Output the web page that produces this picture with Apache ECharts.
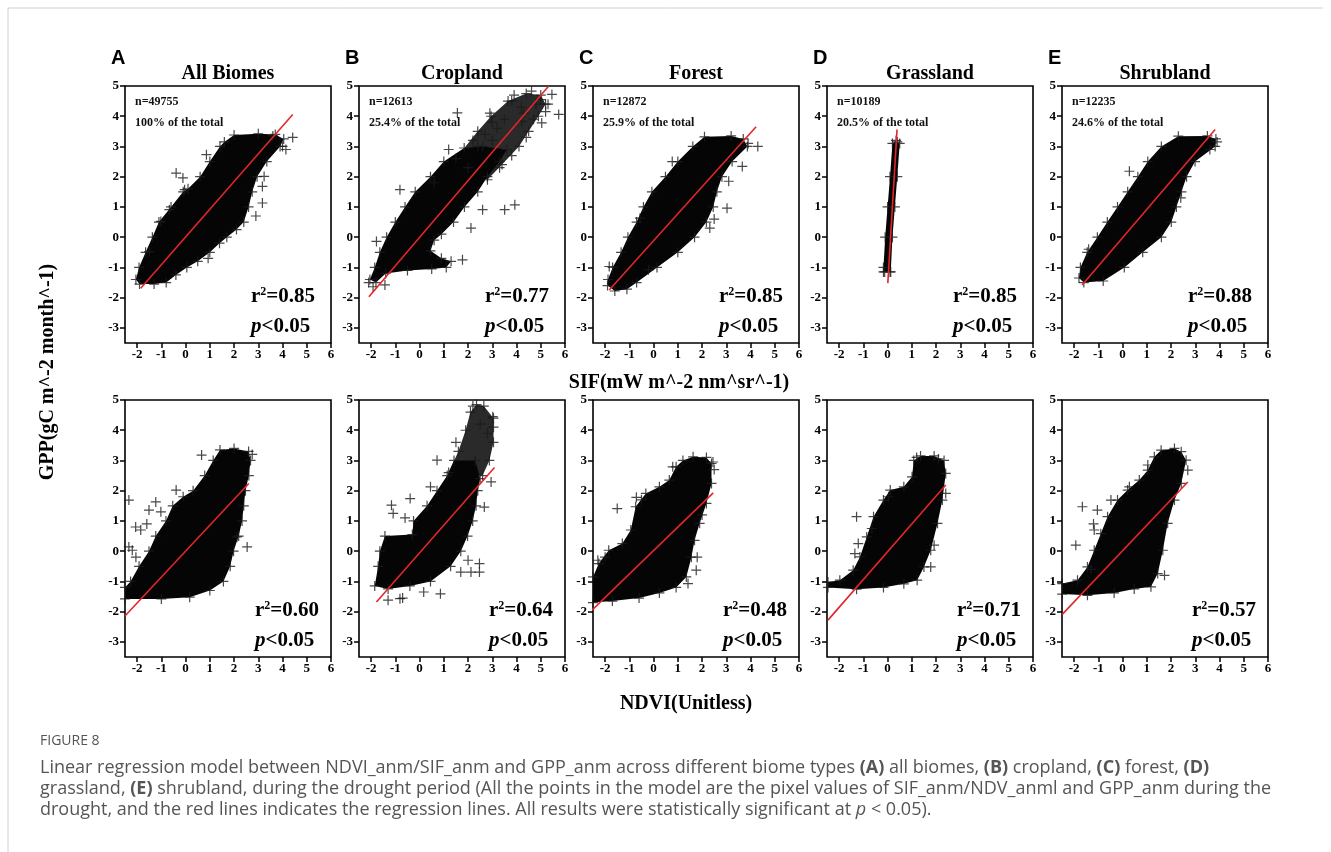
<!DOCTYPE html>
<html>
<head>
<meta charset="utf-8">
<title>Figure 8</title>
<script src="https://cdn.jsdelivr.net/npm/echarts/dist/echarts.min.js"></script>
<style>
  html, body { margin: 0; padding: 0; background: #fff; }
  #fig { width: 1331px; height: 852px; }
</style>
</head>
<body>
<div id="fig"></div>
<script>
var ticksX = [-2, -1, 0, 1, 2, 3, 4, 5, 6];
var ticksY = [-3, -2, -1, 0, 1, 2, 3, 4, 5];

var letters = ['A', 'B', 'C', 'D', 'E'];
var biomes = ['All Biomes', 'Cropland', 'Forest', 'Grassland', 'Shrubland'];
var pixelCounts = ['n=49755', 'n=12613', 'n=12872', 'n=10189', 'n=12235'];
var shareOfTotal = ['100% of the total', '25.4% of the total', '25.9% of the total', '20.5% of the total', '24.6% of the total'];
var r2Sif = ['0.85', '0.77', '0.85', '0.85', '0.88'];
var r2Ndvi = ['0.60', '0.64', '0.48', '0.71', '0.57'];

// outline of the dense point clouds (x, GPP anomaly)
var sifAllCloud = [[-2.05,-1.4],[-1.9,-1.55],[-1.3,-1.55],[-0.8,-1.5],[-0.4,-1.25],[0.05,-1.0],[0.5,-0.8],[1.0,-0.5],[1.4,-0.2],[1.7,0.0],[2.1,0.25],[2.4,0.5],[2.6,1.0],[2.75,1.5],[2.95,2.0],[3.35,2.5],[3.9,3.0],[4.05,3.25],[3.7,3.4],[3.0,3.42],[2.0,3.38],[1.6,3.15],[1.42,3.0],[1.0,2.5],[0.6,2.0],[0.1,1.6],[-0.1,1.5],[-0.6,1.0],[-1.1,0.5],[-1.37,0.0],[-1.65,-0.5],[-1.92,-1.0]];
var sifAllPts = [[4.42,3.3],[4.0,3.0],[4.14,2.9],[3.24,2.01],[3.17,1.68],[3.17,1.13],[-0.11,1.96],[-0.04,1.57],[-0.39,2.12],[0.86,2.73],[-0.67,0.91],[-1.02,0.52],[-1.5,-0.48],[0.93,-0.7],[2.9,0.7],[3.6,3.35]];
var sifAllFit = [[-1.85,-1.69],[4.42,4.06]];

var sifCropCloud = [[-2.05,-1.4],[-1.8,-1.5],[-1.4,-1.2],[-0.5,-1.1],[0.5,-1.05],[1.1,-1.0],[1.3,-0.8],[0.9,-0.7],[0.45,-0.45],[0.6,-0.1],[0.9,0.1],[1.4,0.5],[1.85,1.0],[2.4,1.5],[2.8,2.0],[3.3,2.5],[3.6,2.9],[2.6,3.0],[1.84,2.95],[1.0,2.5],[0.45,2.0],[-0.18,1.5],[-0.6,1.0],[-1.0,0.5],[-1.36,0.0],[-1.64,-0.5],[-1.85,-1.0]];
var sifCropSparse = [[1.5,2.6],[2.4,3.5],[2.95,4.0],[3.65,4.5],[4.4,4.75],[5.0,4.7],[5.2,4.4],[4.9,4.0],[4.5,3.5],[4.1,3.0],[3.4,2.4],[2.8,1.9],[2.0,2.3]];
var sifCropPts = [[4.62,4.83],[5.46,4.72],[5.74,4.06],[5.04,3.78],[4.21,3.83],[1.56,4.11],[3.51,0.91],[3.93,1.07],[2.6,0.91],[2.12,0.3],[1.77,-0.75],[-0.81,1.57],[-1.78,-0.14],[-1.92,-1.64],[-1.43,-1.58],[-2.1,-1.5],[3.8,4.5],[4.2,4.3],[5.0,4.55],[5.3,4.4],[4.7,3.9],[4.3,4.1],[3.5,3.9],[3.2,3.6],[2.9,4.1],[4.4,3.3],[3.8,2.7],[3.3,2.3],[2.4,3.0],[2.7,3.4],[3.0,3.2],[1.2,2.9],[0.6,1.8],[3.9,4.7],[4.8,4.4],[5.2,4.15],[3.0,3.8],[2.2,3.2]];
var sifCropFit = [[-2.09,-1.97],[5.32,4.99]];

var sifForestCloud = [[-1.9,-1.6],[-1.6,-1.78],[-1.1,-1.72],[-0.7,-1.5],[0.14,-1.0],[1.0,-0.5],[1.69,0.0],[2.18,0.5],[2.46,1.0],[2.61,1.5],[2.82,2.0],[3.24,2.5],[3.87,3.0],[3.7,3.25],[3.2,3.35],[2.1,3.32],[1.62,3.0],[1.0,2.5],[0.49,2.0],[-0.07,1.5],[-0.42,1.0],[-0.7,0.5],[-1.06,0.0],[-1.34,-0.5],[-1.69,-1.0],[-1.88,-1.4]];
var sifForestPts = [[4.3,3.0],[3.66,2.34],[3.1,1.85],[3.03,0.96],[2.32,0.3],[0.77,2.5],[-0.56,0.63],[-0.21,-1.08],[-1.83,-0.97],[3.9,3.1],[2.5,0.6]];
var sifForestFit = [[-1.83,-1.75],[4.23,3.65]];

var sifGrassCloud = [[-0.17,-1.15],[0.13,-1.15],[0.2,0.0],[0.3,1.0],[0.4,2.0],[0.5,3.1],[0.35,3.2],[0.2,3.1],[0.1,2.0],[0.0,1.0],[-0.1,0.0],[-0.17,-1.0]];
var sifGrassPts = [[0.4,3.15],[-0.12,-1.15],[0.1,-1.15]];
var sifGrassFit = [[0.01,-1.52],[0.39,3.56]];

var sifShrubCloud = [[-1.8,-1.35],[-1.6,-1.5],[-0.8,-1.45],[0.07,-1.0],[0.83,-0.5],[1.6,0.0],[2.01,0.5],[2.22,1.0],[2.43,1.5],[2.64,2.0],[2.99,2.5],[3.82,3.0],[3.85,3.25],[3.5,3.35],[2.3,3.34],[1.6,3.0],[1.04,2.5],[0.63,2.0],[0.21,1.5],[-0.21,1.0],[-0.63,0.5],[-1.04,0.0],[-1.46,-0.5],[-1.74,-1.0]];
var sifShrubPts = [[0.28,2.18],[3.9,3.15],[3.6,2.9],[2.4,1.3],[-1.4,-0.4]];
var sifShrubFit = [[-1.67,-1.58],[3.82,3.56]];

var ndviAllCloud = [[-2.5,-1.58],[-1.0,-1.58],[0.17,-1.52],[1.0,-1.3],[1.56,-1.0],[1.84,-0.5],[1.98,0.0],[2.19,0.5],[2.33,1.0],[2.4,1.5],[2.47,2.0],[2.61,2.5],[2.68,3.0],[2.6,3.3],[2.0,3.4],[1.42,3.35],[1.14,3.0],[0.79,2.5],[0.31,2.0],[-0.1,1.8],[-0.53,1.5],[-0.81,1.0],[-1.23,0.5],[-1.51,0.0],[-1.92,-0.5],[-2.27,-1.0],[-2.5,-1.2]];
var ndviAllPts = [[-2.34,1.69],[-2.06,0.8],[-1.85,0.7],[-1.51,1.36],[-1.23,1.63],[-1.02,1.3],[-2.34,0.14],[-2.2,0.03],[-2.05,-0.2],[0.66,3.18],[-0.39,2.02],[2.54,0.14],[2.12,0.47],[2.75,3.2],[-1.6,0.9]];
var ndviAllFit = [[-2.51,-2.15],[2.61,2.24]];

var ndviCropCloud = [[-1.85,-1.15],[-1.3,-1.25],[-0.4,-1.15],[0.45,-1.0],[1.28,-0.5],[1.7,0.0],[1.98,0.5],[2.19,1.0],[2.33,1.5],[2.4,2.0],[2.5,2.4],[2.3,3.0],[1.42,3.0],[1.14,2.5],[0.72,2.0],[0.31,1.5],[-0.25,1.0],[-0.3,0.55],[-1.43,0.5],[-1.64,0.0],[-1.71,-0.5]];
var ndviCropSparse = [[1.2,2.6],[1.6,3.3],[1.9,4.0],[2.1,4.6],[2.35,4.85],[2.65,4.8],[3.05,4.4],[3.05,3.6],[2.88,3.0],[2.6,2.5]];
var ndviCropPts = [[-1.16,1.52],[-1.09,1.25],[-0.6,1.1],[-0.39,1.74],[0.45,2.13],[0.72,3.01],[-1.3,-1.62],[-0.81,-1.57],[-0.7,-1.55],[0.17,-1.35],[0.86,-1.41],[1.7,-0.69],[2.12,-0.69],[2.47,-0.69],[2.47,-0.41],[2.67,1.46],[2.95,2.29],[3.02,4.45],[2.2,4.8],[2.5,4.2],[2.8,3.9],[3.05,4.1],[1.5,3.6],[2.0,-0.3]];
var ndviCropFit = [[-1.78,-1.68],[3.09,2.77]];

var ndviForestCloud = [[-2.5,-1.7],[-1.7,-1.65],[-0.6,-1.55],[0.24,-1.38],[0.93,-1.2],[1.35,-0.85],[1.56,-0.2],[1.69,0.36],[1.9,0.92],[2.18,1.58],[2.39,2.24],[2.39,2.9],[2.18,3.1],[1.63,3.12],[1.21,3.0],[0.93,2.79],[0.65,2.35],[0.24,2.13],[-0.32,1.91],[-0.74,1.47],[-0.94,0.7],[-1.29,0.25],[-1.85,0.03],[-2.26,-0.41],[-2.5,-0.85]];
var ndviForestPts = [[-1.5,1.41],[-0.71,1.78],[-0.5,1.7],[0.79,2.79],[1.76,-0.63],[1.8,-0.2],[1.42,-1.07],[2.45,2.95],[2.5,2.7],[-2.3,-0.3],[-2.0,-0.2],[2.0,1.2]];
var ndviForestFit = [[-2.54,-1.95],[2.46,1.93]];

var ndviGrassCloud = [[-2.46,-1.2],[-1.28,-1.26],[-0.17,-1.2],[0.67,-1.08],[1.22,-0.96],[1.5,-0.52],[1.78,0.03],[2.06,0.92],[2.26,1.69],[2.4,2.57],[2.33,3.0],[1.92,3.15],[1.36,3.15],[1.08,3.0],[1.01,2.46],[0.67,2.13],[0.11,2.02],[-0.17,1.69],[-0.58,1.14],[-0.86,0.47],[-1.14,-0.19],[-1.42,-0.63],[-1.97,-0.96],[-2.46,-1.02]];
var ndviGrassPts = [[-1.28,1.14],[-1.35,-0.08],[-1.21,0.25],[-0.65,0.75],[0.04,1.8],[1.92,0.2],[1.78,-0.52],[2.4,1.91],[1.2,3.1],[2.1,3.05]];
var ndviGrassFit = [[-2.46,-2.28],[2.4,2.19]];

var ndviShrubCloud = [[-2.49,-1.42],[-1.45,-1.46],[-0.35,-1.38],[0.48,-1.25],[1.17,-1.18],[1.45,-0.74],[1.66,0.03],[1.86,0.92],[2.14,1.69],[2.42,2.24],[2.62,3.01],[2.42,3.29],[2.14,3.4],[1.59,3.34],[1.31,3.12],[1.04,2.68],[0.69,2.35],[0.21,2.02],[-0.21,1.69],[-0.62,1.14],[-0.9,0.58],[-1.17,0.03],[-1.45,-0.52],[-1.86,-0.96],[-2.49,-1.07]];
var ndviShrubPts = [[-1.66,1.47],[-1.04,1.36],[-1.17,0.7],[-1.93,0.2],[0.28,2.13],[1.04,2.85],[2.69,2.68],[1.73,-0.8],[-0.48,1.69],[-1.2,0.9],[-1.3,-0.6]];
var ndviShrubFit = [[-2.49,-2.09],[2.69,2.29]];

var panels = [
    {cloud: sifAllCloud, sparse: null, pts: sifAllPts, fit: sifAllFit},
    {cloud: sifCropCloud, sparse: sifCropSparse, pts: sifCropPts, fit: sifCropFit},
    {cloud: sifForestCloud, sparse: null, pts: sifForestPts, fit: sifForestFit},
    {cloud: sifGrassCloud, sparse: null, pts: sifGrassPts, fit: sifGrassFit},
    {cloud: sifShrubCloud, sparse: null, pts: sifShrubPts, fit: sifShrubFit},
    {cloud: ndviAllCloud, sparse: null, pts: ndviAllPts, fit: ndviAllFit},
    {cloud: ndviCropCloud, sparse: ndviCropSparse, pts: ndviCropPts, fit: ndviCropFit},
    {cloud: ndviForestCloud, sparse: null, pts: ndviForestPts, fit: ndviForestFit},
    {cloud: ndviGrassCloud, sparse: null, pts: ndviGrassPts, fit: ndviGrassFit},
    {cloud: ndviShrubCloud, sparse: null, pts: ndviShrubPts, fit: ndviShrubFit}
];

var gridLefts = [125, 359, 593, 827, 1062];
var gridTops = [86, 400];
var gridW = 206, gridH = 257;
var serif = '"Liberation Serif", "Times New Roman", serif';
var plusPath = 'path://M4.4,0H5.6V4.4H10V5.6H5.6V10H4.4V5.6H0V4.4H4.4Z';

function polygonSeries(idx, pts, opacity) {
    return {
        type: 'custom',
        xAxisIndex: idx,
        yAxisIndex: idx,
        silent: true,
        z: 2,
        data: [pts[0]],
        renderItem: function (params, api) {
            return {
                type: 'polygon',
                shape: {points: pts.map(function (p) { return api.coord(p); })},
                style: {fill: '#050505', opacity: opacity}
            };
        }
    };
}

var grids = [], xAxes = [], yAxes = [], series = [], graphics = [];

panels.forEach(function (p, i) {
    var row = Math.floor(i / 5), col = i % 5;
    var left = gridLefts[col], top = gridTops[row];
    grids.push({
        left: left, top: top, width: gridW, height: gridH,
        show: true, borderColor: '#000', borderWidth: 1.6, backgroundColor: '#fff'
    });
    xAxes.push({
        type: 'value', gridIndex: i, min: -2.5, max: 6, position: 'bottom',
        axisLine: {show: false, onZero: false},
        splitLine: {show: false},
        axisTick: {show: true, length: 5, customValues: ticksX, lineStyle: {color: '#000', width: 1.5}},
        axisLabel: {customValues: ticksX, margin: 5, color: '#000', fontFamily: serif, fontWeight: 'bold', fontSize: 13}
    });
    yAxes.push({
        type: 'value', gridIndex: i, min: -3.5, max: 5, position: 'left',
        axisLine: {show: false, onZero: false},
        splitLine: {show: false},
        axisTick: {show: true, length: 5, customValues: ticksY, lineStyle: {color: '#000', width: 1.5}},
        axisLabel: {customValues: ticksY, margin: 6, color: '#000', fontFamily: serif, fontWeight: 'bold', fontSize: 13}
    });

    if (p.sparse) {
        series.push(polygonSeries(i, p.sparse, 0.85));
    }
    series.push(polygonSeries(i, p.cloud, 1));
    series.push({
        type: 'scatter', xAxisIndex: i, yAxisIndex: i, silent: true, z: 3,
        symbol: plusPath, symbolSize: 10,
        itemStyle: {color: '#1a1a1a'},
        data: p.cloud.concat(p.pts, p.sparse || [])
    });
    series.push({
        type: 'line', xAxisIndex: i, yAxisIndex: i, silent: true, z: 4,
        symbol: 'none', clip: true,
        lineStyle: {color: '#e3262b', width: 1.6},
        data: p.fit
    });

    var r2 = row === 0 ? r2Sif[col] : r2Ndvi[col];
    var tx = left + (row === 0 ? 126 : 130);
    graphics.push({
        type: 'text', x: tx, y: top + 211, z: 10,
        style: {
            text: '{b|r}{s|2}{b|=' + r2 + '}',
            verticalAlign: 'middle',
            rich: {
                b: {font: 'bold 21px ' + serif, fill: '#000'},
                s: {font: 'bold 12px ' + serif, fill: '#000', padding: [0, 0, 10, 0]}
            }
        }
    });
    graphics.push({
        type: 'text', x: tx, y: top + 241, z: 10,
        style: {
            text: '{i|p}{b|<0.05}',
            verticalAlign: 'middle',
            rich: {
                i: {font: 'italic bold 21px ' + serif, fill: '#000'},
                b: {font: 'bold 21px ' + serif, fill: '#000'}
            }
        }
    });

    if (row === 0) {
        graphics.push({
            type: 'text', x: left + 10, y: top + 16, z: 10,
            style: {text: pixelCounts[col], font: 'bold 12px ' + serif, fill: '#111', verticalAlign: 'middle'}
        });
        graphics.push({
            type: 'text', x: left + 10, y: top + 37, z: 10,
            style: {text: shareOfTotal[col], font: 'bold 12px ' + serif, fill: '#111', verticalAlign: 'middle'}
        });
        graphics.push({
            type: 'text', x: left + gridW / 2, y: 74, z: 10,
            style: {text: biomes[col], font: 'bold 20px ' + serif, fill: '#000', align: 'center', verticalAlign: 'middle'}
        });
        graphics.push({
            type: 'text', x: left - 14, y: 58, z: 10,
            style: {text: letters[col], font: 'bold 20px "Liberation Sans", Arial, sans-serif', fill: '#000', verticalAlign: 'middle'}
        });
    }
});

// axis titles
graphics.push({
    type: 'text', x: 679, y: 383,
    style: {text: 'SIF(mW m^-2 nm^sr^-1)', font: 'bold 20px ' + serif, fill: '#000', align: 'center', verticalAlign: 'middle'}
});
graphics.push({
    type: 'text', x: 686, y: 704,
    style: {text: 'NDVI(Unitless)', font: 'bold 20px ' + serif, fill: '#000', align: 'center', verticalAlign: 'middle'}
});
graphics.push({
    type: 'text', x: 48, y: 372, rotation: Math.PI / 2,
    style: {text: 'GPP(gC m^-2 month^-1)', font: 'bold 20px ' + serif, fill: '#000', align: 'center', verticalAlign: 'middle'}
});

// page frame and caption
graphics.push({type: 'line', shape: {x1: 8, y1: 8, x2: 1323, y2: 8}, style: {stroke: '#d0d0d0', lineWidth: 1}});
graphics.push({type: 'line', shape: {x1: 8, y1: 8, x2: 8, y2: 852}, style: {stroke: '#d0d0d0', lineWidth: 1}});

var capFont = '18px "Open Sans", "Noto Sans", sans-serif';
var capRich = {
    b: {font: 'bold ' + capFont, fill: '#555'},
    i: {font: 'italic ' + capFont, fill: '#555'}
};
var captionLines = [
    'Linear regression model between NDVI_anm/SIF_anm and GPP_anm across different biome types {b|(A)} all biomes, {b|(B)} cropland, {b|(C)} forest, {b|(D)}',
    'grassland, {b|(E)} shrubland, during the drought period (All the points in the model are the pixel values of SIF_anm/NDV_anml and GPP_anm during the',
    'drought, and the red lines indicates the regression lines. All results were statistically significant at {i|p} < 0.05).'
];
graphics.push({
    type: 'text', x: 40, y: 741,
    style: {text: 'FIGURE 8', font: '14px "Open Sans", "Noto Sans", sans-serif', fill: '#555', verticalAlign: 'middle'}
});
captionLines.forEach(function (t, k) {
    graphics.push({
        type: 'text', x: 40, y: 768 + k * 21,
        style: {text: t, font: capFont, fill: '#555', verticalAlign: 'middle', rich: capRich}
    });
});

var chart = echarts.init(document.getElementById('fig'));
chart.setOption({
    animation: false,
    backgroundColor: '#fff',
    grid: grids,
    xAxis: xAxes,
    yAxis: yAxes,
    series: series,
    graphic: graphics
});
</script>
</body>
</html>
